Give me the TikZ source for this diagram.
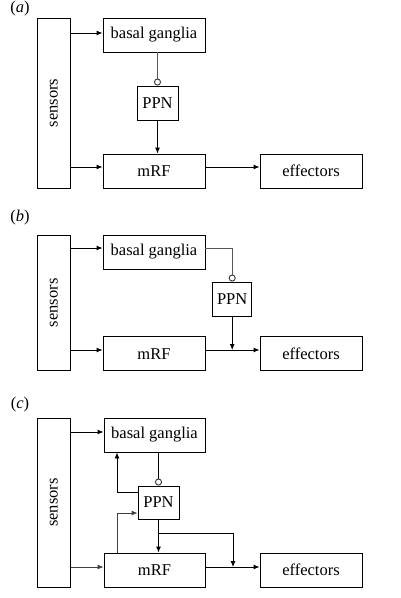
\documentclass[tikz,border=0pt]{standalone}
\usepackage{fontspec}
\setmainfont{Liberation Serif}
\usetikzlibrary{arrows.meta}
\begin{document}
\begin{tikzpicture}[x=1pt,y=-1pt,
  box/.style={draw,line width=0.9pt,inner sep=0pt,font=\fontsize{16.5}{18}\selectfont},
  arr/.style={line width=0.9pt,-{Latex[length=6pt,width=5pt]}},
  inh/.style={line width=0.9pt,draw=black!65,-{Circle[open,length=7pt,width=7pt,black!80]}},
  lab/.style={font=\fontsize{16.5}{18}\selectfont,inner sep=0pt}]
\useasboundingbox (0,0) rectangle (400,598);
% ---------- (a)
\node[lab] (la) at (20,9) {(\textit{a})};
\node[box,minimum width=33.7,minimum height=170] (sa) at (53.85,103) {\rotatebox{90}{sensors}};
\node[box,minimum width=102,minimum height=34] (bga) at (154,35) {basal ganglia};
\node[box,minimum width=41,minimum height=34] (ppna) at (157.5,103) {PPN};
\node[box,minimum width=102,minimum height=34] (mrfa) at (154,171) {mRF};
\node[box,minimum width=102,minimum height=34] (effa) at (311,171) {effectors};
\draw[arr] (sa.east |- 0,33) -- (bga.west |- 0,33);
\draw[arr] (sa.east |- 0,167) -- (mrfa.west |- 0,167);
\draw[inh] (bga.south -| ppna.north) -- (ppna.north);
\draw[arr] (ppna.south) -- (mrfa.north -| ppna.south);
\draw[arr] (mrfa.east |- 0,167) -- (effa.west |- 0,167);
% ---------- (b)
\node[lab] (lb) at (20,218) {(\textit{b})};
\node[box,minimum width=33.7,minimum height=135.7] (sb) at (53.85,302.85) {\rotatebox{90}{sensors}};
\node[box,minimum width=102,minimum height=34] (bgb) at (154,252) {basal ganglia};
\node[box,minimum width=39,minimum height=34] (ppnb) at (232.2,299) {PPN};
\node[box,minimum width=102,minimum height=34] (mrfb) at (154,353.7) {mRF};
\node[box,minimum width=102,minimum height=34] (effb) at (311,353.7) {effectors};
\coordinate (jb) at (ppnb.south |- 0,350);
\draw[arr] (sb.east |- 0,248) -- (bgb.west |- 0,248);
\draw[arr] (sb.east |- 0,350) -- (mrfb.west |- 0,350);
\draw[inh] (bgb.east |- 0,248) -| (ppnb.north);
\draw[arr] (ppnb.south) -- (jb);
\draw[arr] (mrfb.east |- jb) -- (effb.west |- jb);
% ---------- (c)
\node[lab] (lc) at (20,405) {(\textit{c})};
\node[box,minimum width=33.7,minimum height=169] (sc) at (53.85,502.5) {\rotatebox{90}{sensors}};
\node[box,minimum width=101,minimum height=34] (bgc) at (154.5,435) {basal ganglia};
\node[box,minimum width=41,minimum height=33] (ppnc) at (158.5,502.5) {PPN};
\node[box,minimum width=101,minimum height=34] (mrfc) at (154.5,570) {mRF};
\node[box,minimum width=102,minimum height=34] (effc) at (311,570) {effectors};
\coordinate (jc) at (233,567);
\coordinate (bc) at (ppnc.south |- 0,533);
\draw[arr] (sc.east |- 0,432) -- (bgc.west |- 0,432);
\draw[arr,draw=black!75] (sc.east |- 0,567) -- (mrfc.west |- 0,567);
\draw[inh,draw=black] (bgc.south -| ppnc.north) -- (ppnc.north);
\draw[arr] (ppnc.west |- 0,492) -| (bgc.south -| 117,0);
\draw[arr,draw=black!75] (mrfc.north -| 117,0) |- (ppnc.west |- 0,513);
\draw[arr] (ppnc.south) -- (mrfc.north -| ppnc.south);
\draw[arr] (bc) -| (jc);
\draw[arr] (mrfc.east |- jc) -- (effc.west |- jc);
\end{tikzpicture}
\end{document}
